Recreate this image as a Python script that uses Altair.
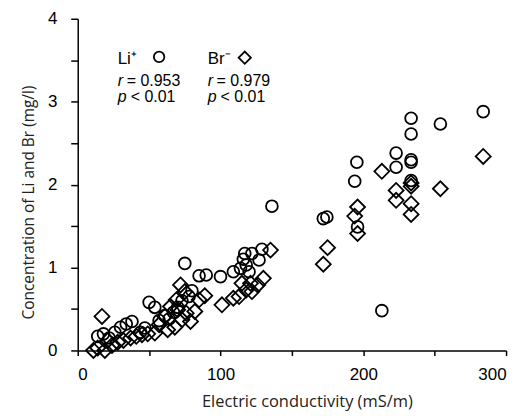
import altair as alt
import pandas as pd

# Li+ (circles)
li_x = [14, 18, 22, 26, 30, 34, 38, 44, 47, 50, 54, 57, 61, 64, 67, 70, 73, 75, 78, 80,
        85, 90, 100, 109, 114, 116, 117, 118, 120, 122, 127, 129, 136, 172, 174.5, 194,
        195.5, 196, 213, 223, 223, 233.5, 233.5, 233.5, 233.5, 233.5, 254, 284]
li_y = [0.17, 0.20, 0.15, 0.22, 0.28, 0.32, 0.35, 0.22, 0.27, 0.58, 0.52, 0.36, 0.42, 0.38,
        0.46, 0.52, 0.60, 1.05, 0.65, 0.72, 0.90, 0.91, 0.89, 0.95, 0.99, 1.10, 1.17, 1.03,
        0.95, 1.17, 1.09, 1.22, 1.74, 1.59, 1.61, 2.04, 2.27, 1.49, 0.48, 2.38, 2.21, 2.80,
        2.61, 2.30, 2.27, 2.05, 2.73, 2.88]

# Br- (diamonds)
br_x = [11, 14, 17, 19, 21, 24, 28, 32, 37, 41, 45, 49, 54, 57, 61, 63, 65, 68, 69, 70,
        72, 73, 75, 76, 79, 82, 85, 89, 101, 109, 113, 115, 118, 121, 122, 126, 130, 135,
        172, 175, 194, 196, 196, 213, 223, 223, 233.5, 233.5, 233.5, 233.5, 254, 284]
br_y = [0.00, 0.03, 0.41, 0.00, 0.12, 0.06, 0.10, 0.12, 0.15, 0.17, 0.19, 0.20, 0.21, 0.31,
        0.41, 0.25, 0.53, 0.28, 0.61, 0.49, 0.79, 0.37, 0.71, 0.45, 0.35, 0.47, 0.61, 0.66,
        0.55, 0.63, 0.65, 0.81, 0.73, 0.81, 0.71, 0.79, 0.87, 1.21, 1.04, 1.24, 1.62, 1.73,
        1.41, 2.16, 1.93, 1.81, 2.02, 1.98, 1.77, 1.64, 1.95, 2.34]

# annotation (legend) texts, positioned in data coordinates
title_x = [28, 91]
title_txt = ["Li\u207a", "Br\u207b"]
stat_x = [28, 28, 91, 91]
stat_y = [3.25, 3.06, 3.25, 3.06]
stat_sym = ["r", "p", "r", "p"]
stat_txt = ["= 0.953", "< 0.01", "= 0.979", "< 0.01"]
sym_x = [57, 117]
sym_y = [3.54, 3.53]

li = pd.DataFrame({"ec": li_x, "conc": li_y})
br = pd.DataFrame({"ec": br_x, "conc": br_y})
titles = pd.DataFrame({"ec": title_x, "conc": [3.52] * 2, "t": title_txt})
stats = pd.DataFrame({"ec": stat_x, "conc": stat_y, "s": stat_sym, "t": stat_txt})

xs = alt.Scale(domain=[0, 300], nice=False, zero=False)
ys = alt.Scale(domain=[0, 4], nice=False)

x_axis = alt.Axis(values=[0, 50, 100, 150, 200, 250, 300], format="d",
                  labelExpr="datum.value % 100 == 0 ? datum.label : ''",
                  title="Electric conductivity (mS/m)", grid=False,
                  domainColor="black", domainWidth=1.5, tickColor="black", tickWidth=1.5,
                  tickSize=5, labelPadding=11, labelFont="Liberation Sans", labelFontSize=17,
                  labelColor="black", titleFont="Open Sans", titleFontSize=16.5,
                  titleFontWeight="normal", titleColor="#222222",
                  titleX=230, titleY=51, titleBaseline="middle", titleAnchor="middle")
y_axis = alt.Axis(values=[0, 0.5, 1, 1.5, 2, 2.5, 3, 3.5, 4], format="~g",
                  labelExpr="datum.value % 1 == 0 ? datum.label : ''",
                  title="Concentration of Li and Br (mg/l)", grid=False,
                  domainColor="black", domainWidth=1.5, tickColor="black", tickWidth=1.5,
                  tickSize=7, labelPadding=14, labelFont="Liberation Sans", labelFontSize=17,
                  labelColor="black", titleFont="Open Sans", titleFontSize=15.5,
                  titleFontWeight="normal", titleColor="#222222",
                  titleX=-49, titleY=184, titleBaseline="middle", titleAngle=-90)

X = alt.X("ec:Q", scale=xs, axis=x_axis)
Y = alt.Y("conc:Q", scale=ys, axis=y_axis)

circles = alt.Chart(li).mark_point(shape="circle", filled=False, size=140,
                                   stroke="black", strokeWidth=1.8, opacity=1).encode(x=X, y=Y)
diamonds = alt.Chart(br).mark_point(shape="diamond", filled=False, size=225,
                                    stroke="black", strokeWidth=1.8, opacity=1).encode(x=X, y=Y)

t_title = alt.Chart(titles).mark_text(align="left", baseline="middle", font="Liberation Sans",
                                      fontSize=17, color="black").encode(x=X, y=Y, text="t:N")
t_sym = alt.Chart(stats).mark_text(align="left", baseline="middle", font="Liberation Sans",
                                   fontSize=16, fontStyle="italic", color="black").encode(
    x=X, y=Y, text="s:N")
t_r = alt.Chart(stats[stats.s == "r"]).mark_text(align="left", baseline="middle",
                                                 font="Liberation Sans", fontSize=16,
                                                 color="black", dx=9).encode(x=X, y=Y, text="t:N")
t_p = alt.Chart(stats[stats.s == "p"]).mark_text(align="left", baseline="middle",
                                                 font="Liberation Sans", fontSize=16,
                                                 color="black", dx=13).encode(x=X, y=Y, text="t:N")

sym_c = alt.Chart(pd.DataFrame({"ec": sym_x[:1], "conc": sym_y[:1]})).mark_point(
    shape="circle", filled=False, size=110, stroke="black", strokeWidth=1.8, opacity=1).encode(x=X, y=Y)
sym_d = alt.Chart(pd.DataFrame({"ec": sym_x[1:], "conc": sym_y[1:]})).mark_point(
    shape="diamond", filled=False, size=150, stroke="black", strokeWidth=1.8, opacity=1).encode(x=X, y=Y)

chart = alt.layer(circles, diamonds, t_title, t_sym, t_r, t_p, sym_c, sym_d).properties(
    width=430, height=333,
    padding={"left": 70, "top": 10, "right": 15, "bottom": 64},
    autosize=alt.AutoSizeParams(type="none"),
    background="white",
).configure_view(stroke=None)

chart.save("out.html", embed_options={"renderer": "svg", "actions": False})
